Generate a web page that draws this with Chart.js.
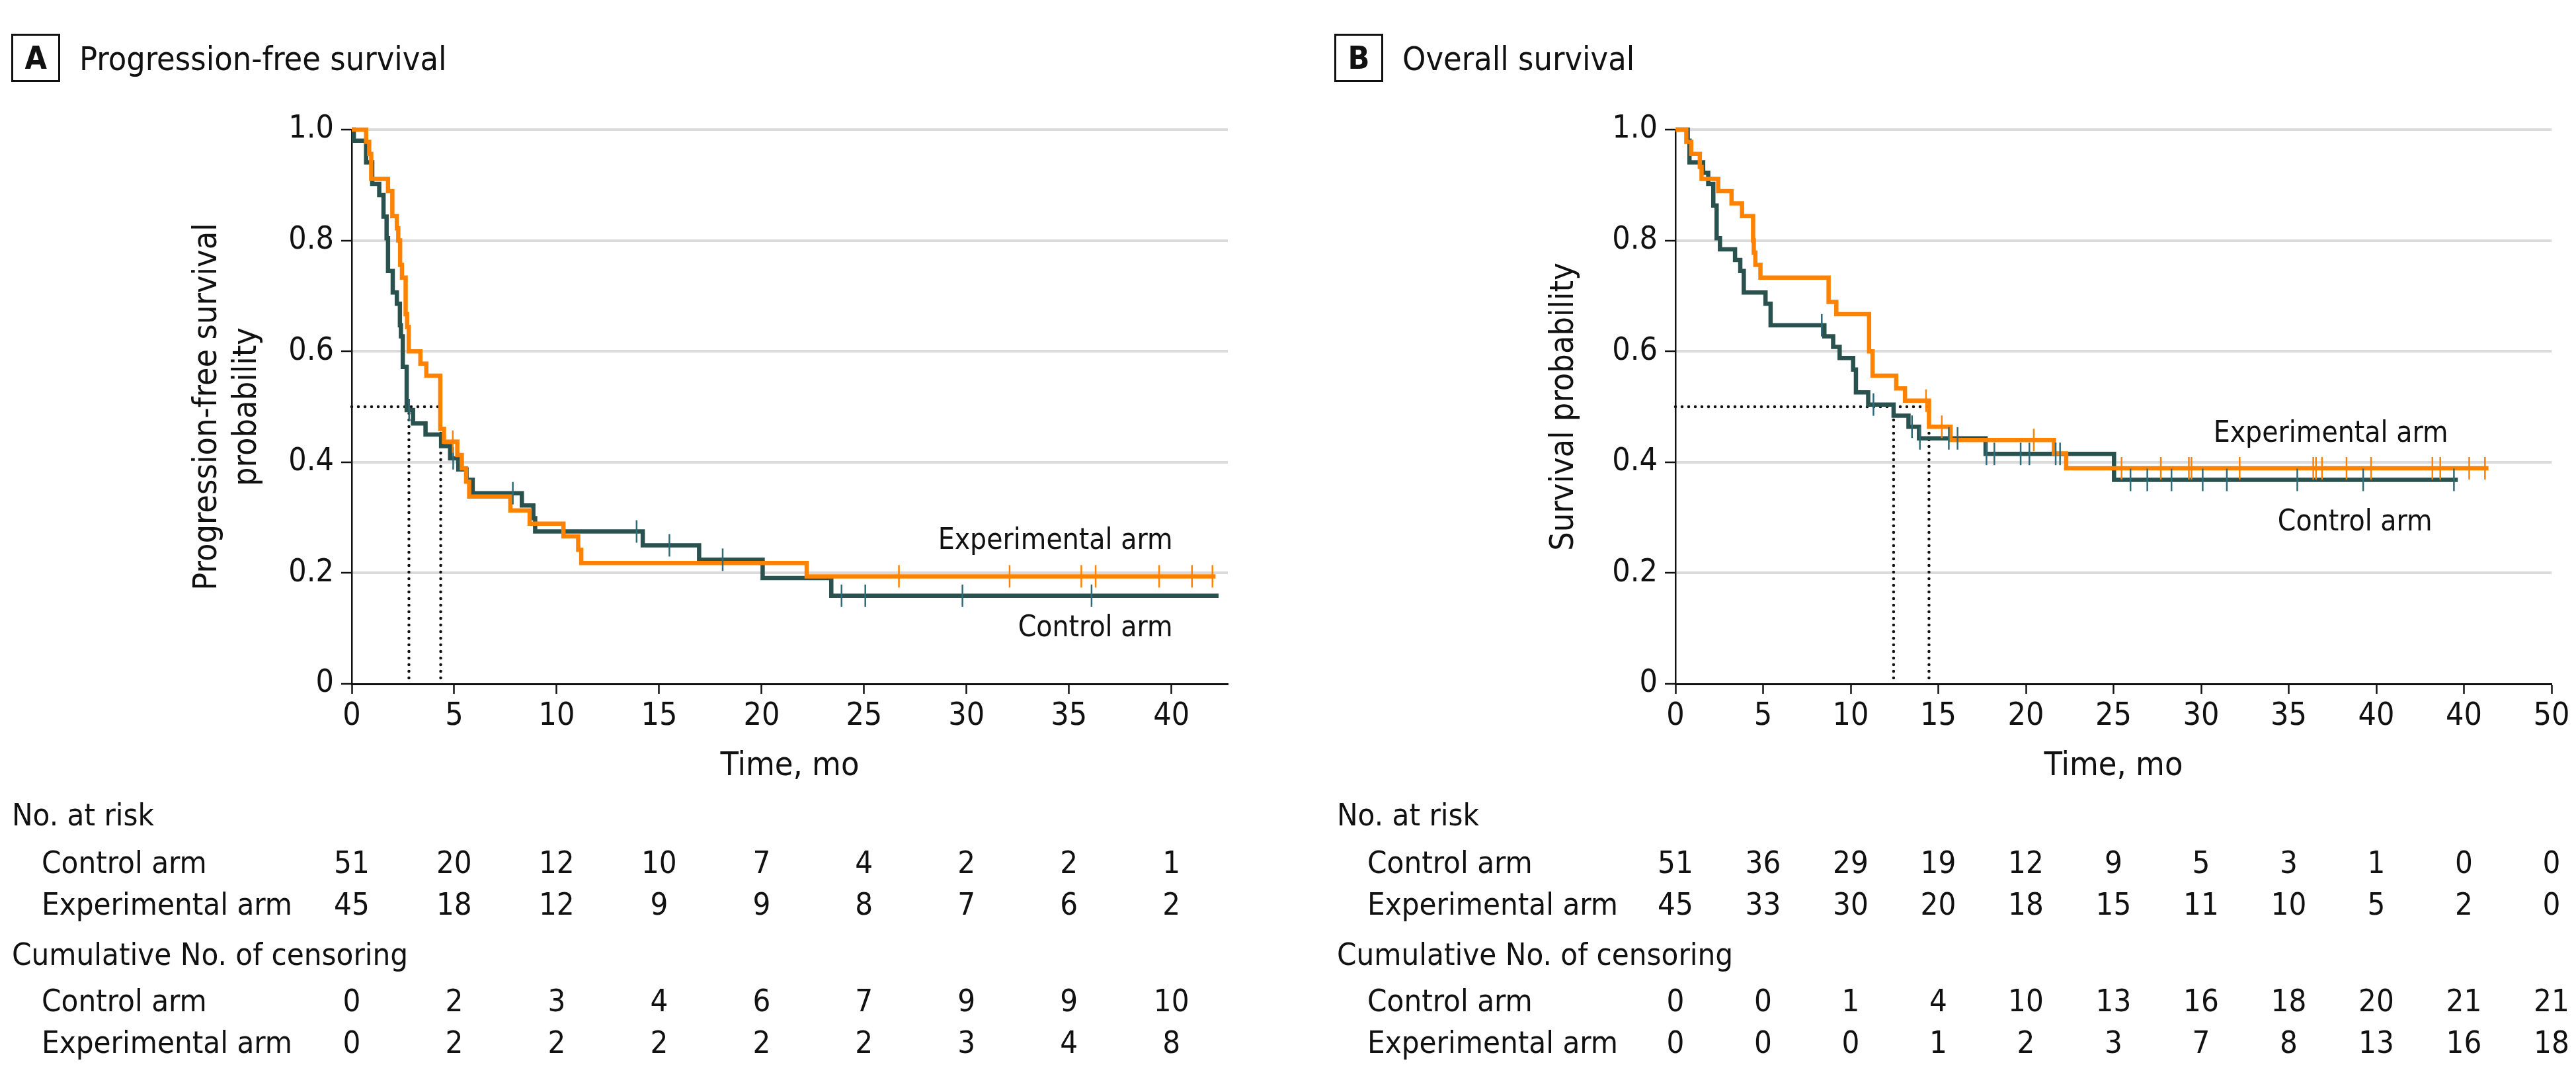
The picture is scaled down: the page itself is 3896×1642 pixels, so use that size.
<!DOCTYPE html>
<html><head><meta charset="utf-8">
<script src="https://cdn.jsdelivr.net/npm/chart.js@4/dist/chart.umd.min.js"></script>
<style>
html,body{margin:0;padding:0;background:#fff;}
body{width:3896px;height:1642px;position:relative;overflow:hidden;font-family:"DejaVu Sans Condensed","Liberation Sans Narrow","DejaVu Sans",sans-serif;font-stretch:condensed;color:#111;}
.panel{position:absolute;top:0;width:1948px;height:1642px;}
canvas{position:absolute;left:0;top:0;}
.t{position:absolute;white-space:nowrap;line-height:1.2;}
.mk{display:inline-block;width:0;height:0;vertical-align:baseline;}
.box{position:absolute;border:3px solid #111;box-sizing:border-box;}
</style></head><body>
<div class="panel" id="pA" style="left:0"><canvas id="cA" width="1948" height="1642"></canvas></div>
<div class="panel" id="pB" style="left:1948px"><canvas id="cB" width="1948" height="1642"></canvas></div>
<script>
// ---------- DATA ----------
const pfsTicksX = [0, 5, 10, 15, 20, 25, 30, 35, 40];
const pfsTickLabelsX = ['0', '5', '10', '15', '20', '25', '30', '35', '40'];
const osTicksX = [0, 5, 10, 15, 20, 25, 30, 35, 40, 45, 50];
const osTickLabelsX = ['0', '5', '10', '15', '20', '25', '30', '35', '40', '40', '50'];
const yTicks = [0, 0.2, 0.4, 0.6, 0.8, 1.0];
const yTickLabels = ['0', '0.2', '0.4', '0.6', '0.8', '1.0'];

// Progression-free survival, control arm (event times, survival after event)
const pfsControlTime = [0.1, 0.7, 1.0, 1.34, 1.55, 1.7, 1.77, 2.0, 2.2, 2.35, 2.4, 2.49, 2.68, 2.99, 3.6, 4.36, 4.8, 5.2, 5.6, 5.9, 8.3, 8.86, 8.95, 14.2, 16.95, 20.05, 23.4];
const pfsControlSurv = [0.980, 0.941, 0.902, 0.882, 0.843, 0.804, 0.745, 0.706, 0.686, 0.647, 0.627, 0.572, 0.494, 0.470, 0.450, 0.429, 0.407, 0.387, 0.368, 0.344, 0.322, 0.299, 0.275, 0.250, 0.224, 0.191, 0.159];
const pfsControlCensor = [2.8, 4.95, 7.86, 13.9, 15.5, 18.1, 23.9, 25.06, 29.8, 36.1];
const pfsControlEnd = 42.3;
// Progression-free survival, experimental arm
const pfsExpTime = [0.7, 0.85, 0.95, 1.77, 1.98, 2.2, 2.27, 2.36, 2.45, 2.63, 2.7, 2.78, 3.35, 3.64, 4.32, 4.5, 5.15, 5.37, 5.58, 5.73, 7.74, 8.68, 10.33, 11.05, 11.2, 22.2];
const pfsExpSurv = [0.978, 0.956, 0.911, 0.889, 0.844, 0.822, 0.800, 0.756, 0.733, 0.667, 0.644, 0.600, 0.578, 0.556, 0.460, 0.437, 0.413, 0.389, 0.365, 0.338, 0.313, 0.289, 0.266, 0.242, 0.218, 0.194];
const pfsExpCensor = [4.93, 26.7, 32.1, 35.6, 36.3, 39.4, 41.0, 42.0];
const pfsExpEnd = 42.15;
const pfsMedians = [2.79, 4.34];

// Overall survival, control arm
const osControlTime = [0.7, 0.8, 1.58, 1.87, 2.16, 2.35, 2.54, 3.4, 3.7, 3.9, 5.14, 5.43, 8.5, 9.0, 9.37, 10.14, 10.3, 11.0, 12.45, 13.3, 13.9, 17.7, 25.03];
const osControlSurv = [0.980, 0.941, 0.922, 0.902, 0.863, 0.804, 0.784, 0.765, 0.745, 0.706, 0.686, 0.647, 0.627, 0.608, 0.588, 0.567, 0.526, 0.504, 0.484, 0.464, 0.443, 0.415, 0.368];
const osControlCensor = [8.35, 11.3, 13.5, 13.95, 15.6, 16.1, 17.75, 18.2, 19.7, 20.2, 21.7, 21.95, 25.97, 26.93, 28.31, 30.09, 31.47, 35.49, 39.25, 44.43];
const osControlEnd = 44.65;
// Overall survival, experimental arm
const osExpTime = [0.62, 0.9, 1.39, 1.49, 2.44, 3.2, 3.8, 4.43, 4.47, 4.56, 4.85, 8.74, 9.18, 11.05, 11.25, 12.6, 13.1, 14.47, 15.7, 21.6, 22.3];
const osExpSurv = [0.978, 0.956, 0.933, 0.911, 0.889, 0.867, 0.844, 0.800, 0.778, 0.756, 0.733, 0.689, 0.667, 0.600, 0.556, 0.533, 0.511, 0.464, 0.440, 0.416, 0.389];
const osExpCensor = [14.3, 15.2, 20.45, 25.46, 27.7, 29.3, 29.45, 32.2, 36.4, 36.56, 36.9, 38.3, 39.7, 43.2, 43.65, 45.3, 46.2];
const osExpEnd = 46.4;
const osMedians = [12.45, 14.47];

const armNames = ['Control arm', 'Experimental arm'];
const tableHeaders = ['No. at risk', 'Cumulative No. of censoring'];
const pfsRiskControl = [51, 20, 12, 10, 7, 4, 2, 2, 1];
const pfsRiskExp = [45, 18, 12, 9, 9, 8, 7, 6, 2];
const pfsCensControl = [0, 2, 3, 4, 6, 7, 9, 9, 10];
const pfsCensExp = [0, 2, 2, 2, 2, 2, 3, 4, 8];
const osRiskControl = [51, 36, 29, 19, 12, 9, 5, 3, 1, 0, 0];
const osRiskExp = [45, 33, 30, 20, 18, 15, 11, 10, 5, 2, 0];
const osCensControl = [0, 0, 1, 4, 10, 13, 16, 18, 20, 21, 21];
const osCensExp = [0, 0, 0, 1, 2, 3, 7, 8, 13, 16, 18];

// ---------- STYLE ----------
const FONT = '"DejaVu Sans Condensed", "Liberation Sans Narrow", "DejaVu Sans", sans-serif';
const INK = '#111111';
const TEAL = '#29524f';
const TEAL_CENSOR = '#2f6a79';
const ORANGE = '#ff8200';
const GRID = '#dadada';
const CURVE_W = 6.5;

function stepAt(times, survs, t) {
  let s = 1;
  for (let i = 0; i < times.length; i++) if (times[i] <= t) s = survs[i];
  return s;
}
function curvePoints(times, survs, end) {
  const pts = [{x: 0, y: 1}];
  times.forEach((t, i) => pts.push({x: t, y: survs[i]}));
  pts.push({x: end, y: survs[survs.length - 1]});
  return pts;
}
function censorPoints(times, survs, cens) {
  return cens.map(t => ({x: t, y: stepAt(times, survs, t)}));
}
function dotted(pts) {
  return {data: pts, borderColor: INK, borderWidth: 4.5, borderDash: [0, 10], borderCapStyle: 'round',
          pointRadius: 0, fill: false, order: 5, clip: false};
}

function buildChart(canvas, o) {
  const datasets = [];
  const mMax = Math.max(...o.medians);
  datasets.push(dotted([{x: 0, y: 0.5}, {x: mMax, y: 0.5}]));
  o.medians.forEach(m => datasets.push(dotted([{x: m, y: 0.5}, {x: m, y: 0}])));
  datasets.push({data: curvePoints(o.ct, o.cs, o.cEnd), borderColor: TEAL, borderWidth: CURVE_W, stepped: 'before',
                 pointRadius: 0, fill: false, order: 3, clip: false, borderJoinStyle: 'miter', borderCapStyle: 'butt'});
  datasets.push({data: curvePoints(o.et, o.es, o.eEnd), borderColor: ORANGE, borderWidth: CURVE_W, stepped: 'before',
                 pointRadius: 0, fill: false, order: 2, clip: false, borderJoinStyle: 'miter', borderCapStyle: 'butt'});
  datasets.push({data: censorPoints(o.ct, o.cs, o.cc), showLine: false, pointStyle: 'line', rotation: 90,
                 pointRadius: 17, pointBorderWidth: 2.5, pointBorderColor: TEAL_CENSOR, borderColor: TEAL_CENSOR, order: 1, clip: false});
  datasets.push({data: censorPoints(o.et, o.es, o.ec), showLine: false, pointStyle: 'line', rotation: 90,
                 pointRadius: 17, pointBorderWidth: 2.5, pointBorderColor: ORANGE, borderColor: ORANGE, order: 0, clip: false});

  return new Chart(canvas, {
    type: 'line',
    data: {datasets},
    options: {
      responsive: false, animation: false, devicePixelRatio: 1, events: [],
      layout: {padding: {left: 0, top: 196, right: o.padRight, bottom: 1642 - 1034 - 160}},
      plugins: {legend: {display: false}, tooltip: {enabled: false}, title: {display: false}},
      scales: {
        x: {
          type: 'linear', min: 0, max: o.xMax,
          afterBuildTicks: s => { s.ticks = o.xTicks.map(v => ({value: v})); },
          afterFit: s => { s.height = 160; },
          ticks: {callback: (v, i) => o.xLabels[i], font: {family: FONT, size: 48}, color: INK, padding: 6, maxRotation: 0, autoSkip: false},
          grid: {drawOnChartArea: false, drawTicks: true, tickLength: 15, tickColor: INK, tickWidth: 2.5},
          border: {display: true, color: INK, width: 3},
          title: {display: true, text: 'Time, mo', font: {family: FONT, size: 50}, color: INK, padding: {top: 0, bottom: 5}}
        },
        y: {
          type: 'linear', min: 0, max: 1,
          afterBuildTicks: s => { s.ticks = yTicks.map(v => ({value: v})); },
          afterFit: s => { s.width = o.yWidth; },
          ticks: {callback: (v, i) => yTickLabels[i], font: {family: FONT, size: 48}, color: INK, padding: 11, autoSkip: false},
          grid: {color: c => (c.tick && c.tick.value === 0) ? 'rgba(0,0,0,0)' : GRID, lineWidth: 4,
                 drawTicks: true, tickLength: 16, tickColor: INK, tickWidth: 2.5},
          border: {display: true, color: INK, width: 2.5},
          title: {display: true, text: o.yTitle, font: {family: FONT, size: 50}, color: INK, padding: {top: o.yTitlePad, bottom: 0}}
        }
      }
    }
  });
}

// ---------- HTML TEXT ----------
function addText(panel, text, x, baseline, size, align, weight) {
  const d = document.createElement('div');
  d.className = 't';
  d.style.fontSize = size + 'px';
  if (weight) d.style.fontWeight = weight;
  d.appendChild(document.createTextNode(text));
  const mk = document.createElement('span');
  mk.className = 'mk';
  d.appendChild(mk);
  panel.appendChild(d);
  const off = mk.offsetTop;
  const w = d.offsetWidth;
  let left = x;
  if (align === 'center') left = x - w / 2;
  else if (align === 'right') left = x - w;
  d.style.left = left + 'px';
  d.style.top = (baseline - off) + 'px';
  return d;
}
function addHeader(panel, letter, title, boxLeft) {
  const b = document.createElement('div');
  b.className = 'box';
  b.style.left = boxLeft + 'px'; b.style.top = '51px'; b.style.width = '74px'; b.style.height = '73px';
  panel.appendChild(b);
  addText(panel, letter, boxLeft + 37, 104, 48, 'center', 'bold');
  addText(panel, title, boxLeft + 103, 106, 50, 'left');
}
function addTable(panel, chart, ticks, rows, headLeft, labelLeft) {
  const xs = chart.scales.x;
  const base = [1248, 1320, 1383, 1459, 1529, 1592];
  addText(panel, tableHeaders[0], headLeft, base[0], 47, 'left');
  addText(panel, tableHeaders[1], headLeft, base[3], 47, 'left');
  const rowBase = [base[1], base[2], base[4], base[5]];
  rows.forEach((vals, r) => {
    addText(panel, armNames[r % 2], labelLeft, rowBase[r], 47, 'left');
    vals.forEach((v, i) => addText(panel, String(v), xs.getPixelForValue(ticks[i]), rowBase[r], 47, 'center'));
  });
}
function addArmLabel(panel, chart, text, xv, yv) {
  addText(panel, text, chart.scales.x.getPixelForValue(xv), chart.scales.y.getPixelForValue(yv), 44, 'right');
}

// ---------- BUILD ----------
const chartA = buildChart(document.getElementById('cA'), {
  medians: pfsMedians, ct: pfsControlTime, cs: pfsControlSurv, cc: pfsControlCensor, cEnd: pfsControlEnd,
  et: pfsExpTime, es: pfsExpSurv, ec: pfsExpCensor, eEnd: pfsExpEnd,
  xMax: 42.75, xTicks: pfsTicksX, xLabels: pfsTickLabelsX, padRight: 91, yWidth: 532,
  yTitle: ['Progression-free survival', 'probability'], yTitlePad: 284
});
const chartB = buildChart(document.getElementById('cB'), {
  medians: osMedians, ct: osControlTime, cs: osControlSurv, cc: osControlCensor, cEnd: osControlEnd,
  et: osExpTime, es: osExpSurv, ec: osExpCensor, eEnd: osExpEnd,
  xMax: 50, xTicks: osTicksX, xLabels: osTickLabelsX, padRight: 37, yWidth: 586,
  yTitle: 'Survival probability', yTitlePad: 388
});

const pA = document.getElementById('pA');
const pB = document.getElementById('pB');
addHeader(pA, 'A', 'Progression-free survival', 17);
addHeader(pB, 'B', 'Overall survival', 70);
addArmLabel(pA, chartA, armNames[1], 40.06, 0.243);
addArmLabel(pA, chartA, armNames[0], 40.06, 0.086);
addArmLabel(pB, chartB, armNames[1], 44.1, 0.437);
addArmLabel(pB, chartB, armNames[0], 43.2, 0.277);
addTable(pA, chartA, pfsTicksX, [pfsRiskControl, pfsRiskExp, pfsCensControl, pfsCensExp], 18, 63);
addTable(pB, chartB, osTicksX, [osRiskControl, osRiskExp, osCensControl, osCensExp], 74, 120);
</script>
</body></html>
